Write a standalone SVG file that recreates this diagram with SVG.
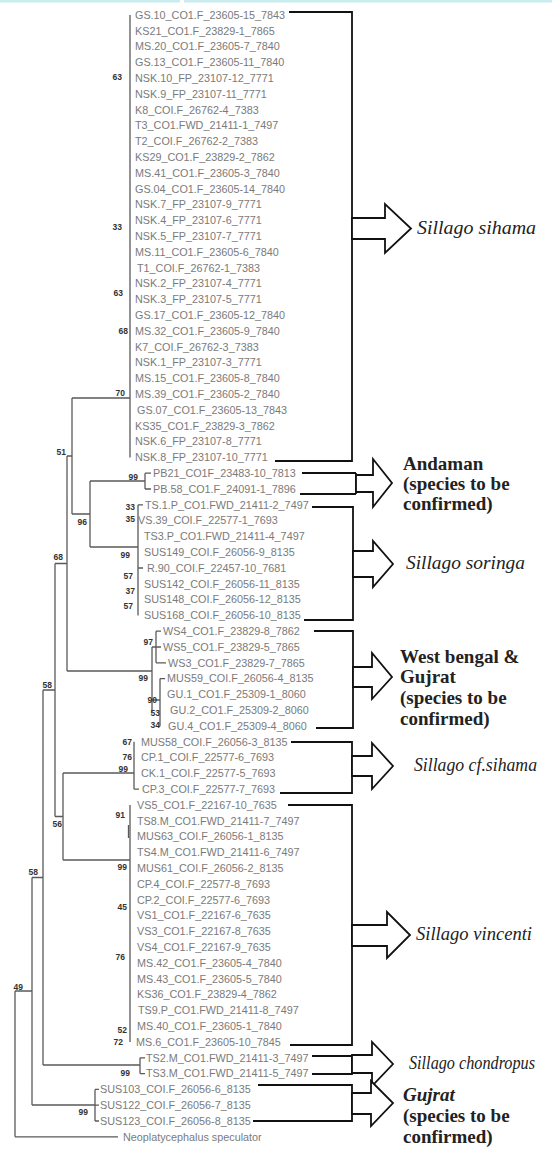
<svg xmlns="http://www.w3.org/2000/svg" width="552" height="1155" viewBox="0 0 552 1155">
<style>
.lf{font-family:"Liberation Sans",Arial,sans-serif;font-size:10.8px;fill:#7a7a7a}
.bs{font-family:"Liberation Sans",Arial,sans-serif;font-size:8.5px;font-weight:bold;fill:#333;text-anchor:end}
.tr{fill:none;stroke:#5a5a5a;stroke-width:1.3}
.br{fill:none;stroke:#111;stroke-width:1.8}
.ar{fill:#fff;stroke:#111;stroke-width:1.8}
.sp{font-family:"Liberation Serif","Times New Roman",serif;font-size:19px;fill:#222}
.it{font-style:italic}
.bd{font-weight:bold}
</style>
<rect x="0" y="0" width="552" height="1155" fill="#fff"/>
<rect x="0" y="0" width="180" height="2.5" fill="#c9ecef"/>
<rect x="184" y="0" width="368" height="2.5" fill="#c9ecef"/>

<g id="connectors">
<path class="tr" stroke-width="2" d="M130,15 V457.4"/>
<path class="tr" d="M72,398 H130 M72,398 V514 M67,456 H72
M90,481 H145 M145,473.2 V489 M145,473.2 H151 M145,489 H151
M90,481 V547 M72,514 H90
M90,547 H138 M138,504.8 V615.4 M138,504.8 H143 M138,568 H143
M67,456 V671 M55,563.5 H67
M67,671 H152 M152,647 V700 M152,647 H156 M156,631.2 V662.8 M156,631.2 H161 M156,647 H161 M156,662.8 H166
M152,700 H160 M160,678.6 V726 M160,678.6 H165
M55,563.5 V816.5 M43,690 H55
M63,773 H134 M134,741.8 V789.2 M134,789.2 H139
M55,816.5 H63 M63,773 V860
M63,860 H130 M130,805 V1042
M43,690 V1065 M32,877.5 H43
M43,1065 H140 M140,1057.8 V1073.6 M140,1057.8 H145 M140,1073.6 H145
M32,877.5 V1105 M15,991 H32
M32,1105 H95 M95,1089.4 V1121 M95,1089.4 H99 M95,1105.2 H99 M95,1121 H99
M15,991 V1136.8 M15,1136.8 H118"/>
<path class="tr" stroke-width="2.2" stroke="#888" d="M128.5,825 V838 M152,700 V712"/>
</g>

<g id="bootstrap">
<text class="bs" x="122" y="80">63</text>
<text class="bs" x="122" y="230">33</text>
<text class="bs" x="123" y="296">63</text>
<text class="bs" x="128" y="334">68</text>
<text class="bs" x="125" y="396">70</text>
<text class="bs" x="66" y="455">51</text>
<text class="bs" x="87" y="525">96</text>
<text class="bs" x="138" y="480">99</text>
<text class="bs" x="135" y="510">33</text>
<text class="bs" x="135" y="522">35</text>
<text class="bs" x="130" y="558">99</text>
<text class="bs" x="133" y="579">57</text>
<text class="bs" x="135" y="594">37</text>
<text class="bs" x="133" y="609">57</text>
<text class="bs" x="63" y="560">68</text>
<text class="bs" x="153" y="645">97</text>
<text class="bs" x="148" y="681">99</text>
<text class="bs" x="157" y="703">90</text>
<text class="bs" x="160" y="716">53</text>
<text class="bs" x="160" y="728">34</text>
<text class="bs" x="52" y="688">58</text>
<text class="bs" x="132" y="745">67</text>
<text class="bs" x="132" y="760">76</text>
<text class="bs" x="128" y="772">99</text>
<text class="bs" x="62" y="827">56</text>
<text class="bs" x="125" y="818">91</text>
<text class="bs" x="127" y="870">99</text>
<text class="bs" x="127" y="910">45</text>
<text class="bs" x="125" y="960">76</text>
<text class="bs" x="127" y="1033">52</text>
<text class="bs" x="123" y="1045">72</text>
<text class="bs" x="38" y="875">58</text>
<text class="bs" x="23" y="990">49</text>
<text class="bs" x="130" y="1076">99</text>
<text class="bs" x="88" y="1115">99</text>
</g>

<g id="clade-sihama">
<text class="lf" x="135" y="18.8">GS.10_CO1.F_23605-15_7843</text>
<text class="lf" x="135" y="34.6">KS21_CO1.F_23829-1_7865</text>
<text class="lf" x="135" y="50.4">MS.20_CO1.F_23605-7_7840</text>
<text class="lf" x="135" y="66.2">GS.13_CO1.F_23605-11_7840</text>
<text class="lf" x="135" y="82">NSK.10_FP_23107-12_7771</text>
<text class="lf" x="135" y="97.8">NSK.9_FP_23107-11_7771</text>
<text class="lf" x="135" y="113.6">K8_COI.F_26762-4_7383</text>
<text class="lf" x="135" y="129.4">T3_CO1.FWD_21411-1_7497</text>
<text class="lf" x="135" y="145.2">T2_COI.F_26762-2_7383</text>
<text class="lf" x="135" y="161">KS29_CO1.F_23829-2_7862</text>
<text class="lf" x="135" y="176.8">MS.41_CO1.F_23605-3_7840</text>
<text class="lf" x="135" y="192.6">GS.04_CO1.F_23605-14_7840</text>
<text class="lf" x="135" y="208.4">NSK.7_FP_23107-9_7771</text>
<text class="lf" x="135" y="224.2">NSK.4_FP_23107-6_7771</text>
<text class="lf" x="135" y="240">NSK.5_FP_23107-7_7771</text>
<text class="lf" x="135" y="255.8">MS.11_CO1.F_23605-6_7840</text>
<text class="lf" x="137" y="271.6">T1_COI.F_26762-1_7383</text>
<text class="lf" x="135" y="287.4">NSK.2_FP_23107-4_7771</text>
<text class="lf" x="135" y="303.2">NSK.3_FP_23107-5_7771</text>
<text class="lf" x="135" y="319">GS.17_CO1.F_23605-12_7840</text>
<text class="lf" x="135" y="334.8">MS.32_CO1.F_23605-9_7840</text>
<text class="lf" x="135" y="350.6">K7_COI.F_26762-3_7383</text>
<text class="lf" x="135" y="366.4">NSK.1_FP_23107-3_7771</text>
<text class="lf" x="135" y="382.2">MS.15_CO1.F_23605-8_7840</text>
<text class="lf" x="135" y="398">MS.39_CO1.F_23605-2_7840</text>
<text class="lf" x="137" y="413.8">GS.07_CO1.F_23605-13_7843</text>
<text class="lf" x="135" y="429.6">KS35_CO1.F_23829-3_7862</text>
<text class="lf" x="135" y="445.4">NSK.6_FP_23107-8_7771</text>
<text class="lf" x="135" y="461.2">NSK.8_FP_23107-10_7771</text>
<path class="br" d="M289,12 H352 V461 H275"/>
<path class="ar" d="M352,218 H385 V204 L411,228.5 L385,253 V239 H352 Z"/>
<text class="sp it" x="417" y="234" textLength="119" lengthAdjust="spacingAndGlyphs">Sillago sihama</text>
</g>

<g id="clade-andaman">
<text class="lf" x="153" y="477">PB21_CO1F_23483-10_7813</text>
<text class="lf" x="153" y="492.8">PB.58_CO1.F_24091-1_7896</text>
<path class="br" d="M302,473 H356 M300,494 H356"/>
<path class="br" stroke-width="3" d="M356,473 V494"/>
<path class="ar" d="M356,475 H373 V459 L392,483 L373,507 V492 H356 Z"/>
<text class="sp bd" x="403" y="470">Andaman</text>
<text class="sp bd" x="403" y="490">(species to be</text>
<text class="sp bd" x="403" y="510">confirmed)</text>
</g>

<g id="clade-soringa">
<text class="lf" x="145" y="508.6">TS.1.P_CO1.FWD_21411-2_7497</text>
<text class="lf" x="138" y="524.4">VS.39_COI.F_22577-1_7693</text>
<text class="lf" x="144" y="540.2">TS3.P_CO1.FWD_21411-4_7497</text>
<text class="lf" x="144" y="556">SUS149_COI.F_26056-9_8135</text>
<text class="lf" x="147" y="571.8">R.90_COI.F_22457-10_7681</text>
<text class="lf" x="144" y="587.6">SUS142_COI.F_26056-11_8135</text>
<text class="lf" x="144" y="603.4">SUS148_COI.F_26056-12_8135</text>
<text class="lf" x="144" y="619.2">SUS168_COI.F_26056-10_8135</text>
<path class="br" d="M312,507 H353 V620 H304"/>
<path class="ar" d="M353,551 H373 V541 L393,564 L373,587 V577 H353 Z"/>
<text class="sp it" x="406" y="569" textLength="119" lengthAdjust="spacingAndGlyphs">Sillago soringa</text>
</g>

<g id="clade-westbengal-gujrat">
<text class="lf" x="163" y="635">WS4_CO1.F_23829-8_7862</text>
<text class="lf" x="163" y="650.8">WS5_CO1.F_23829-5_7865</text>
<text class="lf" x="168" y="666.6">WS3_CO1.F_23829-7_7865</text>
<text class="lf" x="167" y="682.4">MUS59_COI.F_26056-4_8135</text>
<text class="lf" x="167" y="698.2">GU.1_CO1.F_25309-1_8060</text>
<text class="lf" x="170" y="714">GU.2_CO1.F_25309-2_8060</text>
<text class="lf" x="168" y="729.8">GU.4_CO1.F_25309-4_8060</text>
<path class="br" d="M314,631 H353 V728 H316"/>
<path class="ar" d="M353,667 H372 V653 L392,677 L372,699 V687 H353 Z"/>
<text class="sp bd" x="400" y="663">West bengal &amp;</text>
<text class="sp bd" x="400" y="683">Gujrat</text>
<text class="sp bd" x="400" y="704">(species to be</text>
<text class="sp bd" x="400" y="725">confirmed)</text>
</g>

<g id="clade-cf-sihama">
<text class="lf" x="141" y="745.6">MUS58_COI.F_26056-3_8135</text>
<text class="lf" x="141" y="761.4">CP.1_COI.F_22577-6_7693</text>
<text class="lf" x="141" y="777.2">CK.1_COI.F_22577-5_7693</text>
<text class="lf" x="142" y="793">CP.3_COI.F_22577-7_7693</text>
<path class="br" d="M291,742 H352 V793 H280"/>
<path class="ar" d="M352,756 H372 V743 L393,766 L372,789 V776 H352 Z"/>
<text class="sp it" x="414" y="771" font-size="18" textLength="123" lengthAdjust="spacingAndGlyphs">Sillago cf.sihama</text>
</g>

<g id="clade-vincenti">
<text class="lf" x="137" y="808.8">VS5_CO1.F_22167-10_7635</text>
<text class="lf" x="137" y="824.6">TS8.M_CO1.FWD_21411-7_7497</text>
<text class="lf" x="137" y="840.4">MUS63_COI.F_26056-1_8135</text>
<text class="lf" x="137" y="856.2">TS4.M_CO1.FWD_21411-6_7497</text>
<text class="lf" x="137" y="872">MUS61_COI.F_26056-2_8135</text>
<text class="lf" x="137" y="887.8">CP.4_COI.F_22577-8_7693</text>
<text class="lf" x="137" y="903.6">CP.2_COI.F_22577-6_7693</text>
<text class="lf" x="137" y="919.4">VS1_CO1.F_22167-6_7635</text>
<text class="lf" x="137" y="935.2">VS3_CO1.F_22167-8_7635</text>
<text class="lf" x="137" y="951">VS4_CO1.F_22167-9_7635</text>
<text class="lf" x="137" y="966.8">MS.42_CO1.F_23605-4_7840</text>
<text class="lf" x="137" y="982.6">MS.43_CO1.F_23605-5_7840</text>
<text class="lf" x="137" y="998.4">KS36_CO1.F_23829-4_7862</text>
<text class="lf" x="138" y="1014.2">TS9.P_CO1.FWD_21411-8_7497</text>
<text class="lf" x="137" y="1030">MS.40_CO1.F_23605-1_7840</text>
<text class="lf" x="136" y="1045.8">MS.6_CO1.F_23605-10_7845</text>
<path class="br" d="M288,805 H352 V1045 H290"/>
<path class="ar" d="M352,925 H387 V912 L410,935 L387,958 V946 H352 Z"/>
<text class="sp it" x="416" y="940" textLength="116" lengthAdjust="spacingAndGlyphs">Sillago vincenti</text>
</g>

<g id="clade-chondropus">
<text class="lf" x="146" y="1061.6">TS2.M_CO1.FWD_21411-3_7497</text>
<text class="lf" x="146" y="1077.4">TS3.M_CO1.FWD_21411-5_7497</text>
<path class="br" d="M312,1056 H352 V1074 H312"/>
<path class="ar" d="M352,1055 H372 V1042 L393,1064 L372,1086 V1073 H352 Z"/>
<text class="sp it" x="409" y="1069" font-size="14" textLength="126" lengthAdjust="spacingAndGlyphs">Sillago chondropus</text>
</g>

<g id="clade-gujrat">
<text class="lf" x="100" y="1093.2">SUS103_COI.F_26056-6_8135</text>
<text class="lf" x="100" y="1109">SUS122_COI.F_26056-7_8135</text>
<text class="lf" x="100" y="1124.8">SUS123_COI.F_26056-8_8135</text>
<path class="br" d="M258,1085 H352 V1121 H253"/>
<path class="ar" d="M352,1093 H371 V1081 L393,1103 L371,1126 V1114 H352 Z"/>
<text class="sp it bd" x="403" y="1101">Gujrat</text>
<text class="sp bd" x="403" y="1122">(species to be</text>
<text class="sp bd" x="403" y="1143">confirmed)</text>
</g>

<g id="outgroup">
<text class="lf" x="123" y="1140.6">Neoplatycephalus speculator</text>
</g>
</svg>
